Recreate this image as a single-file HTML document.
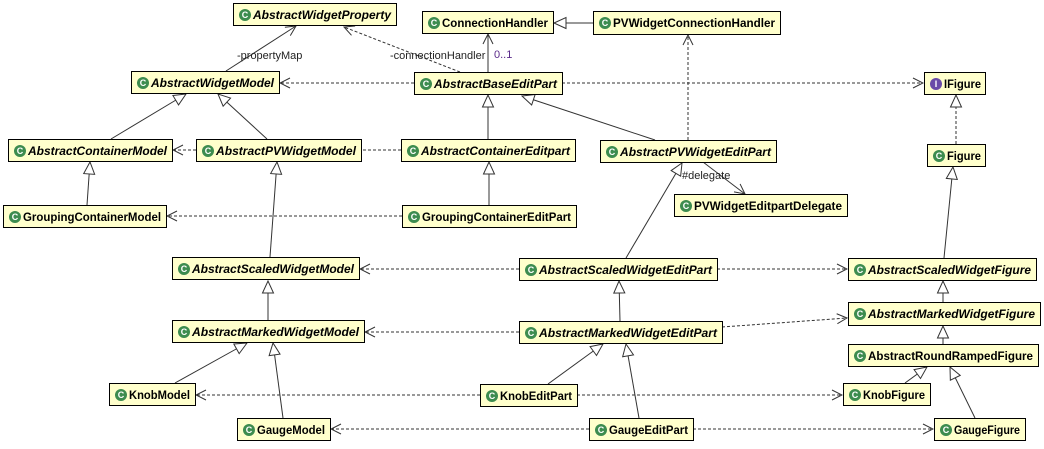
<!DOCTYPE html>
<html><head><meta charset="utf-8"><style>
body{margin:0;background:#fff;width:1044px;height:444px;overflow:hidden}
svg text{font-family:"Liberation Sans",Arial,sans-serif}
.n{font-size:12px;font-weight:bold;fill:#000}
.i{font-style:italic}
.l{font-size:11px;fill:#222}
.s{stroke:#333;stroke-width:1;fill:none}
.d{stroke:#333;stroke-width:1;fill:none;stroke-dasharray:3,2}
</style></head><body>
<svg width="1044" height="444" xmlns="http://www.w3.org/2000/svg">
<defs>
<marker id="o" viewBox="0 0 12 12" refX="11" refY="6" markerWidth="12" markerHeight="12" markerUnits="userSpaceOnUse" orient="auto"><path d="M1,1 L11,6 L1,11" fill="none" stroke="#333" stroke-width="1"/></marker>
<marker id="t" viewBox="0 0 14 14" refX="13" refY="7" markerWidth="14" markerHeight="14" markerUnits="userSpaceOnUse" orient="auto"><path d="M1,1.5 L13,7 L1,12.5 Z" fill="#fff" stroke="#333" stroke-width="1"/></marker>
</defs>
<g>
<line class="s" x1="226" y1="71" x2="296" y2="26" marker-end="url(#o)"/>
<text class="l" x="237" y="59">-propertyMap</text>
<line class="d" x1="460" y1="72" x2="344" y2="27" marker-end="url(#o)"/>
<text class="l" x="390" y="59">-connectionHandler</text>
<line class="s" x1="488" y1="72" x2="488" y2="34" marker-end="url(#o)"/>
<text class="l" x="494" y="58" style="fill:#5a2a8a">0..1</text>
<line class="s" x1="593" y1="23" x2="554" y2="23" marker-end="url(#t)"/>
<line class="d" x1="414" y1="83" x2="280" y2="83" marker-end="url(#o)"/>
<line class="d" x1="562" y1="83" x2="923" y2="83" marker-end="url(#o)"/>
<line class="s" x1="111" y1="139" x2="186" y2="94" marker-end="url(#t)"/>
<line class="s" x1="267" y1="139" x2="218" y2="94" marker-end="url(#t)"/>
<line class="d" x1="401" y1="150" x2="173" y2="150" marker-end="url(#o)"/>
<line class="s" x1="87" y1="205" x2="90" y2="162" marker-end="url(#t)"/>
<line class="d" x1="402" y1="216" x2="167" y2="216" marker-end="url(#o)"/>
<line class="s" x1="488" y1="139" x2="488" y2="95" marker-end="url(#t)"/>
<line class="s" x1="489" y1="205" x2="489" y2="162" marker-end="url(#t)"/>
<line class="s" x1="655" y1="140" x2="522" y2="96" marker-end="url(#t)"/>
<line class="d" x1="688" y1="140" x2="688" y2="35" marker-end="url(#o)"/>
<line class="s" x1="703" y1="162" x2="745" y2="194" marker-end="url(#o)"/>
<text class="l" x="682" y="179">#delegate</text>
<line class="s" x1="626" y1="258" x2="682" y2="163" marker-end="url(#t)"/>
<line class="s" x1="270" y1="257" x2="277" y2="162" marker-end="url(#t)"/>
<line class="d" x1="519" y1="269" x2="360" y2="269" marker-end="url(#o)"/>
<line class="d" x1="717" y1="269" x2="847" y2="269" marker-end="url(#o)"/>
<line class="s" x1="268" y1="320" x2="268" y2="281" marker-end="url(#t)"/>
<line class="s" x1="620" y1="321" x2="619" y2="281" marker-end="url(#t)"/>
<line class="d" x1="519" y1="332" x2="365" y2="332" marker-end="url(#o)"/>
<line class="d" x1="722" y1="327" x2="847" y2="318" marker-end="url(#o)"/>
<line class="s" x1="944" y1="258" x2="953" y2="167" marker-end="url(#t)"/>
<line class="d" x1="956" y1="144" x2="956" y2="95" marker-end="url(#t)"/>
<line class="s" x1="943" y1="302" x2="943" y2="281" marker-end="url(#t)"/>
<line class="s" x1="943" y1="344" x2="943" y2="326" marker-end="url(#t)"/>
<line class="s" x1="905" y1="383" x2="927" y2="367" marker-end="url(#t)"/>
<line class="s" x1="975" y1="418" x2="950" y2="367" marker-end="url(#t)"/>
<line class="s" x1="175" y1="383" x2="247" y2="343" marker-end="url(#t)"/>
<line class="s" x1="283" y1="418" x2="273" y2="343" marker-end="url(#t)"/>
<line class="s" x1="548" y1="384" x2="603" y2="344" marker-end="url(#t)"/>
<line class="s" x1="639" y1="418" x2="626" y2="344" marker-end="url(#t)"/>
<line class="d" x1="480" y1="395" x2="196" y2="395" marker-end="url(#o)"/>
<line class="d" x1="577" y1="395" x2="842" y2="395" marker-end="url(#o)"/>
<line class="d" x1="589" y1="429" x2="331" y2="429" marker-end="url(#o)"/>
<line class="d" x1="693" y1="429" x2="933" y2="429" marker-end="url(#o)"/>
</g>
<g stroke="#000" stroke-width="1" fill="#ffffcc">
<rect x="233.5" y="3.5" width="163" height="22"/>
<rect x="131.5" y="71.5" width="148" height="22"/>
<rect x="8.5" y="139.5" width="164" height="22"/>
<rect x="196.5" y="139.5" width="165" height="22"/>
<rect x="3.5" y="205.5" width="163" height="22"/>
<rect x="422.5" y="11.5" width="131" height="22"/>
<rect x="593.5" y="11.5" width="187" height="23"/>
<rect x="414.5" y="72.5" width="148" height="22"/>
<rect x="401.5" y="139.5" width="174" height="22"/>
<rect x="600.5" y="140.5" width="176" height="22"/>
<rect x="674.5" y="194.5" width="173" height="22"/>
<rect x="402.5" y="205.5" width="174" height="22"/>
<rect x="924.5" y="72.5" width="61" height="22"/>
<rect x="927.5" y="144.5" width="58" height="22"/>
<rect x="172.5" y="257.5" width="187" height="22"/>
<rect x="519.5" y="258.5" width="198" height="22"/>
<rect x="848.5" y="258.5" width="188" height="22"/>
<rect x="172.5" y="320.5" width="192" height="22"/>
<rect x="519.5" y="321.5" width="203" height="22"/>
<rect x="848.5" y="302.5" width="192" height="23"/>
<rect x="848.5" y="344.5" width="190" height="22"/>
<rect x="109.5" y="383.5" width="86" height="22"/>
<rect x="480.5" y="384.5" width="97" height="22"/>
<rect x="843.5" y="383.5" width="87" height="22"/>
<rect x="237.5" y="418.5" width="93" height="22"/>
<rect x="589.5" y="418.5" width="104" height="22"/>
<rect x="934.5" y="418.5" width="91" height="22"/>
</g>
<g fill="#3d8c4f">
<circle cx="245" cy="15" r="6"/><circle cx="143" cy="83" r="6"/><circle cx="20" cy="151" r="6"/><circle cx="208" cy="151" r="6"/><circle cx="15" cy="217" r="6"/>
<circle cx="434" cy="23" r="6"/><circle cx="605" cy="23" r="6"/><circle cx="426" cy="84" r="6"/><circle cx="413" cy="151" r="6"/><circle cx="612" cy="152" r="6"/><circle cx="686" cy="206" r="6"/><circle cx="414" cy="217" r="6"/>
<circle cx="939" cy="156" r="6"/><circle cx="184" cy="269" r="6"/><circle cx="531" cy="270" r="6"/><circle cx="860" cy="270" r="6"/><circle cx="184" cy="332" r="6"/><circle cx="531" cy="333" r="6"/><circle cx="860" cy="314" r="6"/><circle cx="860" cy="356" r="6"/>
<circle cx="121" cy="395" r="6"/><circle cx="492" cy="396" r="6"/><circle cx="855" cy="395" r="6"/><circle cx="249" cy="430" r="6"/><circle cx="601" cy="430" r="6"/><circle cx="946" cy="430" r="6"/>
</g>
<circle cx="936" cy="84" r="6" fill="#6a4aa8"/>
<g font-size="9" font-weight="bold" fill="#fff" text-anchor="middle" style="font-family:'Liberation Sans',sans-serif">
<text x="245" y="18">C</text><text x="143" y="86">C</text><text x="20" y="154">C</text><text x="208" y="154">C</text><text x="15" y="220">C</text>
<text x="434" y="26">C</text><text x="605" y="26">C</text><text x="426" y="87">C</text><text x="413" y="154">C</text><text x="612" y="155">C</text><text x="686" y="209">C</text><text x="414" y="220">C</text>
<text x="939" y="159">C</text><text x="184" y="272">C</text><text x="531" y="273">C</text><text x="860" y="273">C</text><text x="184" y="335">C</text><text x="531" y="336">C</text><text x="860" y="317">C</text><text x="860" y="359">C</text>
<text x="121" y="398">C</text><text x="492" y="399">C</text><text x="855" y="398">C</text><text x="249" y="433">C</text><text x="601" y="433">C</text><text x="946" y="433">C</text>
<text x="936" y="87">I</text>
</g>
<g lengthAdjust="spacingAndGlyphs">
<text class="n i" x="253" y="19" textLength="138" lengthAdjust="spacingAndGlyphs">AbstractWidgetProperty</text>
<text class="n i" x="151" y="87" textLength="123" lengthAdjust="spacingAndGlyphs">AbstractWidgetModel</text>
<text class="n i" x="28" y="155" textLength="139" lengthAdjust="spacingAndGlyphs">AbstractContainerModel</text>
<text class="n i" x="216" y="155" textLength="140" lengthAdjust="spacingAndGlyphs">AbstractPVWidgetModel</text>
<text class="n" x="23" y="221" textLength="138" lengthAdjust="spacingAndGlyphs">GroupingContainerModel</text>
<text class="n" x="442" y="27" textLength="106" lengthAdjust="spacingAndGlyphs">ConnectionHandler</text>
<text class="n" x="613" y="27" textLength="162" lengthAdjust="spacingAndGlyphs">PVWidgetConnectionHandler</text>
<text class="n i" x="434" y="88" textLength="123" lengthAdjust="spacingAndGlyphs">AbstractBaseEditPart</text>
<text class="n i" x="421" y="155" textLength="149" lengthAdjust="spacingAndGlyphs">AbstractContainerEditpart</text>
<text class="n i" x="620" y="156" textLength="151" lengthAdjust="spacingAndGlyphs">AbstractPVWidgetEditPart</text>
<text class="n" x="694" y="210" textLength="148" lengthAdjust="spacingAndGlyphs">PVWidgetEditpartDelegate</text>
<text class="n" x="422" y="221" textLength="149" lengthAdjust="spacingAndGlyphs">GroupingContainerEditPart</text>
<text class="n" x="944" y="88" textLength="37" lengthAdjust="spacingAndGlyphs">IFigure</text>
<text class="n" x="947" y="160" textLength="34" lengthAdjust="spacingAndGlyphs">Figure</text>
<text class="n i" x="192" y="273" textLength="162" lengthAdjust="spacingAndGlyphs">AbstractScaledWidgetModel</text>
<text class="n i" x="539" y="274" textLength="173" lengthAdjust="spacingAndGlyphs">AbstractScaledWidgetEditPart</text>
<text class="n i" x="868" y="274" textLength="163" lengthAdjust="spacingAndGlyphs">AbstractScaledWidgetFigure</text>
<text class="n i" x="192" y="336" textLength="167" lengthAdjust="spacingAndGlyphs">AbstractMarkedWidgetModel</text>
<text class="n i" x="539" y="337" textLength="178" lengthAdjust="spacingAndGlyphs">AbstractMarkedWidgetEditPart</text>
<text class="n i" x="868" y="318" textLength="167" lengthAdjust="spacingAndGlyphs">AbstractMarkedWidgetFigure</text>
<text class="n" x="868" y="360" textLength="165" lengthAdjust="spacingAndGlyphs">AbstractRoundRampedFigure</text>
<text class="n" x="129" y="399" textLength="61" lengthAdjust="spacingAndGlyphs">KnobModel</text>
<text class="n" x="500" y="400" textLength="72" lengthAdjust="spacingAndGlyphs">KnobEditPart</text>
<text class="n" x="863" y="399" textLength="62" lengthAdjust="spacingAndGlyphs">KnobFigure</text>
<text class="n" x="257" y="434" textLength="68" lengthAdjust="spacingAndGlyphs">GaugeModel</text>
<text class="n" x="609" y="434" textLength="79" lengthAdjust="spacingAndGlyphs">GaugeEditPart</text>
<text class="n" x="954" y="434" textLength="66" lengthAdjust="spacingAndGlyphs">GaugeFigure</text>
</g>
</svg>
</body></html>
